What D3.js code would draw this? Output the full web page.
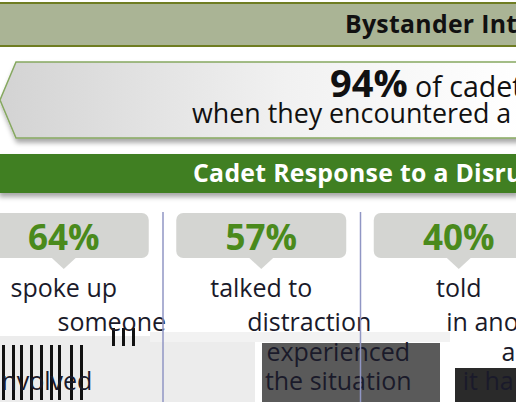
<!DOCTYPE html>
<html lang="en">
<head>
    <meta charset="UTF-8">
    <title>Bystander Intervention</title>
    <script src="https://d3js.org/d3.v7.min.js"></script>
    <style>
        body { margin: 0; background: #fff; }
        text { font-family: 'Open Sans', sans-serif; }
        text.banner { font-weight: 700; font-size: 24.8px; letter-spacing: 0.3px; }
        text.pct { font-weight: 700; font-size: 35px; fill: #4a8a1c; text-anchor: middle; }
        text.line { font-size: 25px; fill: #1a1a2a; text-anchor: middle; }
    </style>
</head>
<body>
<svg width="527" height="402"></svg>
<script>
    const columns = ["spoke", "talked", "told"];
    const percents = [64, 57, 40];
    const columnLines = [
        ["spoke up", "someone", "involved"],
        ["talked to", "distraction", "experienced", "the situation"],
        ["told", "in another", "about", "it happening"]
    ];
    const headline = {big: "94%", rest: " of cadets took action", second: "when they encountered a disruptive situation"};

    const svg = d3.select("svg");
    const right = 516;

    const defs = svg.append("defs");
    defs.append("clipPath").attr("id", "clip")
        .append("rect").attr("width", right).attr("height", 402);
    const grad = defs.append("linearGradient").attr("id", "grey");
    grad.append("stop").attr("offset", "0%").attr("stop-color", "#d3d3d3");
    grad.append("stop").attr("offset", "55%").attr("stop-color", "#f1f1f1");
    grad.append("stop").attr("offset", "100%").attr("stop-color", "#ffffff");
    const blur = defs.append("filter").attr("id", "shadow")
        .attr("x", "-5%").attr("y", "-20%").attr("width", "110%").attr("height", "150%");
    blur.append("feDropShadow").attr("dx", 1).attr("dy", 4).attr("stdDeviation", 2.5)
        .attr("flood-color", "#000").attr("flood-opacity", 0.35);

    const g = svg.append("g").attr("clip-path", "url(#clip)");

    // top banner
    g.append("rect").attr("x", -2).attr("y", 3).attr("width", right + 4).attr("height", 43)
        .attr("fill", "#aab495").attr("stroke", "#6f7d22").attr("stroke-width", 2);
    g.append("text").attr("class", "banner").attr("x", 345).attr("y", 33)
        .attr("fill", "#111").text("Bystander Intervention");

    // arrow callout
    g.append("path")
        .attr("d", `M0,100 L16,62 L${right + 5},62 L${right + 5},138 L16,138 Z`)
        .attr("fill", "url(#grey)").attr("stroke", "#86a860").attr("stroke-width", 1.5)
        .attr("filter", "url(#shadow)");
    const t1 = g.append("text").attr("x", 330).attr("y", 97).attr("fill", "#111");
    t1.append("tspan").attr("font-weight", 700).attr("font-size", 38).text(headline.big);
    t1.append("tspan").attr("font-size", 28.5).text(headline.rest);
    g.append("text").attr("x", 192).attr("y", 123).attr("font-size", 26.8)
        .attr("fill", "#111").text(headline.second);

    // green section bar
    g.append("rect").attr("x", -2).attr("y", 154).attr("width", right + 4).attr("height", 39)
        .attr("fill", "#3f7f22").attr("filter", "url(#shadow)");
    g.append("text").attr("class", "banner").attr("x", 193).attr("y", 182)
        .attr("fill", "#fff").text("Cadet Response to a Disruptive Situation");

    // columns
    const x = d3.scaleBand().domain(columns).range([-35, -35 + 197.5 * columns.length]);
    const lineY = [297, 331, 361, 390];
    const lineShift = [0, 48, 77, 77];

    // glitched backdrop at the bottom
    g.append("rect").attr("x", 0).attr("y", 336).attr("width", 255).attr("height", 66).attr("fill", "#ececec");
    g.append("rect").attr("x", 262).attr("y", 343).attr("width", 178).attr("height", 59).attr("fill", "#5a5a5a");
    g.append("rect").attr("x", 455).attr("y", 368).attr("width", 70).attr("height", 34).attr("fill", "#2a2a2a");
    g.append("rect").attr("x", 150).attr("y", 332).attr("width", 300).attr("height", 10).attr("fill", "#f2f2f2");
    g.selectAll("rect.stripe").data([2, 12, 20, 30, 40, 50, 58, 70, 80, 112, 122, 132]).enter().append("rect")
        .attr("class", "stripe").attr("x", d => d).attr("y", d => d > 100 ? 328 : 345)
        .attr("width", 3).attr("height", d => d > 100 ? 18 : 55).attr("fill", "#111");

    const col = g.selectAll("g.col").data(columns).enter().append("g").attr("class", "col");

    col.filter((d, i) => i > 0).append("line")
        .attr("x1", d => x(d) + 0.5).attr("x2", d => x(d) + 0.5)
        .attr("y1", 212).attr("y2", 402)
        .attr("stroke", "#9096c4").attr("stroke-width", 1.5);

    const cx = d => x(d) + x.bandwidth() / 2;
    col.append("rect")
        .attr("x", d => cx(d) - 85).attr("y", 213)
        .attr("width", 170).attr("height", 45).attr("rx", 7)
        .attr("fill", "#d4d5d2");
    col.append("path")
        .attr("d", d => `M${cx(d) - 13},257 L${cx(d)},269 L${cx(d) + 13},257 Z`)
        .attr("fill", "#d4d5d2");
    col.append("text").attr("class", "pct")
        .attr("x", cx).attr("y", 250)
        .text((d, i) => percents[i] + "%");

    col.each(function (d, i) {
        const sel = d3.select(this);
        columnLines[i].forEach((s, j) => {
            const dark = i > 0 && j > 1;
            const first = i === 0 && j === 2;
            sel.append("text").attr("class", "line")
                .attr("x", cx(d) + (first ? -20 : lineShift[j]))
                .attr("y", first ? 390 : lineY[j])
                .attr("fill", dark ? "#e8e8e8" : "#1a1a2a")
                .text(s);
        });
    });
</script>
</body>
</html>
